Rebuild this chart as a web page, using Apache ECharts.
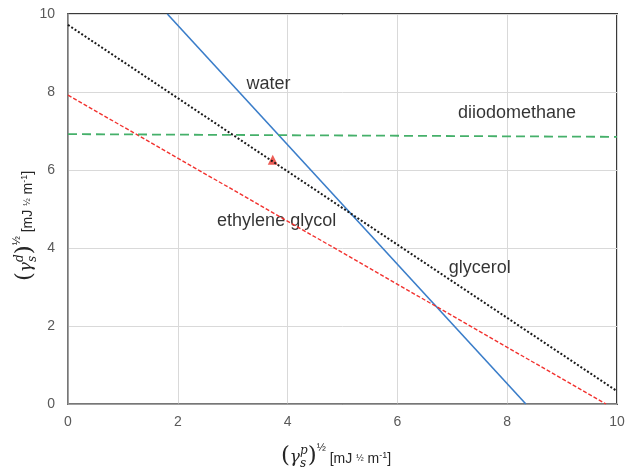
<!DOCTYPE html>
<html>
<head>
<meta charset="utf-8">
<script src="https://cdn.jsdelivr.net/npm/echarts@6/dist/echarts.min.js"></script>
<style>
html, body { margin: 0; padding: 0; background: #fff; }
#chart { width: 625px; height: 469px; }
</style>
</head>
<body>
<div id="chart"></div>
<script>
// line end points
var waterX = [1.81, 8.34];
var waterY = [10, 0];
var glycerolX = [0, 10];
var glycerolY = [9.72, 0.33];
var glycolX = [0, 9.8];
var glycolY = [7.92, 0];
var diiodoX = [0, 10];
var diiodoY = [6.92, 6.85];
// red triangle
var pointX = [3.73];
var pointY = [6.26];
// text labels inside the plot
var labelText = ['water', 'diiodomethane', 'ethylene glycol', 'glycerol'];
var labelX = [3.65, 8.18, 3.8, 7.5];
var labelY = [8.21, 7.47, 4.7, 3.49];

function pairs(xs, ys) {
    return xs.map(function (x, i) { return [x, ys[i]]; });
}

var SANS = '"Liberation Sans", Arial, sans-serif';
var SERIF = '"DejaVu Serif", "Liberation Serif", serif';
var measure = document.createElement('canvas').getContext('2d');

// builds the (gamma_s^x)^1/2 [mJ 1/2 m-1] axis title from small text pieces
function mathLabel(sup, cx, cy, rot) {
    var parts = [
        { t: '(', size: 23, font: SERIF, dy: 2 },
        { t: 'γ', size: 17, font: SERIF, italic: true, dy: 0 },
        { t: sup, size: 12, font: SERIF, italic: true, dy: -9, stay: true },
        { t: 's', size: 12, font: SERIF, italic: true, dy: 4 },
        { t: ')', size: 23, font: SERIF, dy: 2 },
        { t: '½', size: 11, font: SANS, dy: -13 },
        { t: ' [mJ ', size: 14, font: SANS, dy: 0 },
        { t: '½', size: 9, font: SANS, dy: -3 },
        { t: ' m', size: 14, font: SANS, dy: 0 },
        { t: '-1', size: 9, font: SANS, dy: -6 },
        { t: ']', size: 14, font: SANS, dy: 0 }
    ];
    var x = 0;
    var items = [];
    var held = 0;
    parts.forEach(function (p) {
        var f = (p.italic ? 'italic ' : '') + p.size + 'px ' + p.font;
        measure.font = f;
        var w = measure.measureText(p.t).width;
        items.push({ p: p, x: x, w: w });
        if (p.stay) {
            held = w;
        } else {
            x += Math.max(w, held);
            held = 0;
        }
    });
    var total = x;
    var children = items.map(function (it) {
        return {
            type: 'text',
            x: it.x - total / 2,
            y: it.p.dy,
            style: {
                text: it.p.t,
                fontSize: it.p.size,
                fontFamily: it.p.font,
                fontStyle: it.p.italic ? 'italic' : 'normal',
                fill: '#262626',
                align: 'left',
                verticalAlign: 'bottom'
            }
        };
    });
    return { type: 'group', x: cx, y: cy, rotation: rot, children: children };
}

var chart = echarts.init(document.getElementById('chart'));
var option = {
    animation: false,
    grid: {
        left: 68, right: 8, top: 14, bottom: 65,
        show: true,
        borderColor: '#3a3a3a',
        borderWidth: 2,
        outerBoundsMode: 'none'
    },
    xAxis: {
        type: 'value', min: 0, max: 10, interval: 2,
        axisLine: { show: true, lineStyle: { color: '#8c8c8c', width: 1.5 } },
        axisTick: { show: false },
        axisLabel: { color: '#595959', fontSize: 14, fontFamily: SANS, margin: 11 },
        splitLine: { show: true, lineStyle: { color: '#d9d9d9', width: 1 } }
    },
    yAxis: {
        type: 'value', min: 0, max: 10, interval: 2,
        axisLine: { show: true, lineStyle: { color: '#8c8c8c', width: 1.5 } },
        axisTick: { show: false },
        axisLabel: { color: '#595959', fontSize: 14, fontFamily: SANS, margin: 13 },
        splitLine: { show: true, lineStyle: { color: '#d9d9d9', width: 1 } }
    },
    series: [
        {
            name: 'water', type: 'line', symbol: 'none',
            data: pairs(waterX, waterY),
            lineStyle: { color: '#3a7dc9', width: 1.6 }
        },
        {
            name: 'glycerol', type: 'line', symbol: 'none',
            data: pairs(glycerolX, glycerolY),
            lineStyle: { color: '#1a1a1a', width: 2, type: [2, 2] }
        },
        {
            name: 'ethylene glycol', type: 'line', symbol: 'none',
            data: pairs(glycolX, glycolY),
            lineStyle: { color: '#f2322f', width: 1.4, type: [4, 2] }
        },
        {
            name: 'diiodomethane', type: 'line', symbol: 'none',
            data: pairs(diiodoX, diiodoY),
            lineStyle: { color: '#45b06a', width: 1.8, type: [9, 5] }
        },
        {
            name: 'point', type: 'scatter', symbol: 'triangle', symbolSize: 10,
            data: pairs(pointX, pointY),
            itemStyle: { color: '#e8342c' }
        },
        {
            name: 'labels', type: 'scatter', symbolSize: 1,
            itemStyle: { color: 'rgba(0,0,0,0)' },
            silent: true,
            data: labelX.map(function (x, i) { return { value: [x, labelY[i]], name: labelText[i] }; }),
            label: {
                show: true, position: 'inside',
                formatter: function (p) { return p.name; },
                color: '#000', fontSize: 18, fontFamily: SANS
            }
        }
    ],
    graphic: [
        mathLabel('p', 336, 466, 0),
        mathLabel('d', 35, 226, Math.PI / 2)
    ]
};
chart.setOption(option);
window.addEventListener('resize', function () { chart.resize(); });
</script>
</body>
</html>
